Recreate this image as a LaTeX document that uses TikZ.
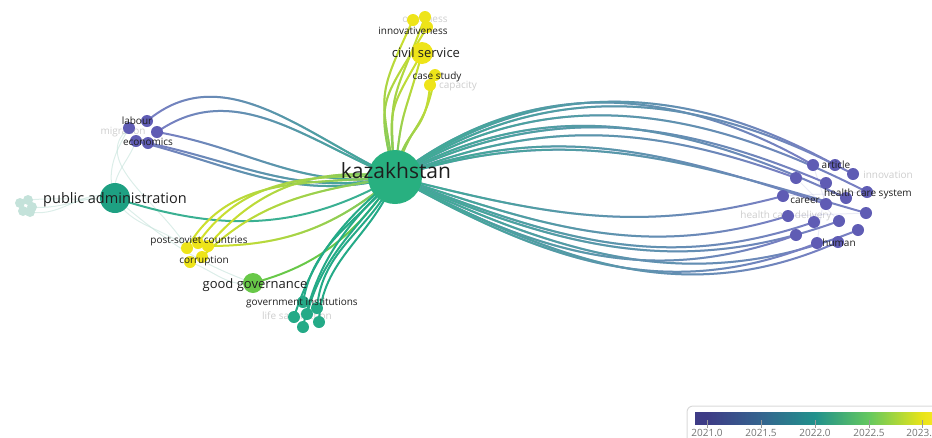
\documentclass[tikz,border=0pt]{standalone}
\usepackage{fontspec}
\setmainfont{Open Sans}
\usetikzlibrary{fadings,backgrounds}

\definecolor{kzgreen}{RGB}{40,176,128}
\definecolor{pateal}{RGB}{30,160,130}
\definecolor{gigreen}{RGB}{36,170,135}
\definecolor{gggreen}{RGB}{104,200,72}
\definecolor{kwyellow}{RGB}{238,228,25}
\definecolor{kwpurple}{RGB}{95,92,180}
\definecolor{kwfaint}{RGB}{196,226,218}
\definecolor{edgepurple}{RGB}{122,126,196}
\definecolor{edgeteal}{RGB}{58,176,146}
\definecolor{edgeyellow}{RGB}{214,226,40}
\definecolor{edgegreen}{RGB}{110,196,108}
\definecolor{lbltext}{RGB}{30,30,30}
\definecolor{lblfaint}{RGB}{205,205,205}
\definecolor{vA}{RGB}{62,60,134}
\definecolor{vB}{RGB}{52,100,142}
\definecolor{vC}{RGB}{33,145,140}
\definecolor{vD}{RGB}{100,200,95}
\definecolor{vE}{RGB}{232,228,25}
\definecolor{vF}{RGB}{253,231,37}
\pgfdeclarehorizontalshading{viridisbar}{100bp}{color(0bp)=(vA); color(27.4bp)=(vA); color(38.5bp)=(vB); color(49.5bp)=(vC); color(60.5bp)=(vD); color(71.3bp)=(vE); color(75bp)=(vF); color(100bp)=(vF)}

\begin{document}
\begin{tikzpicture}
        [x=1pt,y=-1pt,
         kw/.style={circle,inner sep=0,minimum size=12pt,fill=kwpurple},
         lbl/.style={inner sep=0,anchor=base,text=lbltext,font=\fontsize{10}{10}\selectfont},
         lblfade/.style={lbl,text=lblfaint},
         toright/.style={line width=2pt,draw=edgepurple,postaction={draw=edgeteal,path fading=east}},
         toleft/.style={line width=2pt,draw=edgepurple,postaction={draw=edgeteal,path fading=west}},
         yellowedge/.style={line width=2pt,draw=edgeyellow,postaction={draw=edgegreen,path fading=west}},
         civiledge/.style={line width=2pt,draw=edgeyellow,looseness=1.4,postaction={draw=edgegreen,path fading=north}},
         faintedge/.style={line width=1pt,draw=kwfaint,opacity=0.6}]

        \useasboundingbox (0,0) rectangle (932,437);

        \node[kw,fill=kzgreen,minimum size=54pt] (kz) at (395,177) {};
        \node[kw,fill=pateal,minimum size=30pt] (pa) at (115,198) {};
        \node[kw,fill=gggreen,minimum size=20pt] (gg) at (253,283) {};
        \node[kw,fill=kwyellow,minimum size=22pt] (cs) at (422,53) {};

        \node[kw,fill=kwyellow] (cv1) at (413,20) {};
        \node[kw,fill=kwyellow] (cv2) at (425,17) {};
        \node[kw,fill=kwyellow] (cv3) at (427,27) {};
        \node[kw,fill=kwyellow] (ca1) at (435,75) {};
        \node[kw,fill=kwyellow] (ca2) at (430,85) {};

        \node[kw] (lb1) at (129,128) {};
        \node[kw] (lb2) at (147,121) {};
        \node[kw] (lb3) at (157,132) {};
        \node[kw] (lb4) at (136,141) {};
        \node[kw] (lb5) at (148,143) {};

        \node[kw,fill=kwfaint,minimum size=10pt] (f1) at (20,203) {};
        \node[kw,fill=kwfaint,minimum size=10pt] (f2) at (28,200) {};
        \node[kw,fill=kwfaint,minimum size=10pt] (f3) at (32,207) {};
        \node[kw,fill=kwfaint,minimum size=10pt] (f4) at (23,211) {};
        \node[kw,fill=kwfaint,minimum size=10pt] (f5) at (30,212) {};

        \node[kw,fill=kwyellow] (ps1) at (187,248) {};
        \node[kw,fill=kwyellow] (ps2) at (198,243) {};
        \node[kw,fill=kwyellow] (ps3) at (208,246) {};
        \node[kw,fill=kwyellow] (ps4) at (190,262) {};
        \node[kw,fill=kwyellow] (ps5) at (202,257) {};

        \node[kw,fill=gigreen] (gi1) at (303,302) {};
        \node[kw,fill=gigreen] (gi2) at (317,308) {};
        \node[kw,fill=gigreen] (gi3) at (307,314) {};
        \node[kw,fill=gigreen] (gi4) at (319,322) {};
        \node[kw,fill=gigreen] (gi5) at (303,327) {};
        \node[kw,fill=gigreen] (gi6) at (294,317) {};

        \node[kw] (r1) at (813,165) {};
        \node[kw] (r2) at (835,165) {};
        \node[kw] (r3) at (853,174) {};
        \node[kw] (r4) at (796,178) {};
        \node[kw] (r5) at (826,183) {};
        \node[kw] (r6) at (846,198) {};
        \node[kw] (r7) at (867,192) {};
        \node[kw] (r8) at (783,196) {};
        \node[kw] (r9) at (826,204) {};
        \node[kw] (r10) at (866,213) {};
        \node[kw] (r11) at (788,216) {};
        \node[kw] (r12) at (814,222) {};
        \node[kw] (r13) at (839,221) {};
        \node[kw] (r14) at (858,230) {};
        \node[kw] (r15) at (796,235) {};
        \node[kw] (r16) at (817,243) {};
        \node[kw] (r17) at (838,242) {};

        \node[lbl,font=\fontsize{21}{21}\selectfont] (kzl) at (396,178) {kazakhstan};
        \node[lbl,font=\fontsize{14.5}{14.5}\selectfont] (pal) at (115,203) {public administration};
        \node[lbl,font=\fontsize{13}{13}\selectfont] (ggl) at (255,288) {good governance};
        \node[lbl,font=\fontsize{13}{13}\selectfont] (csl) at (426,57) {civil service};
        \node[lbl] (cvl) at (413,34) {innovativeness};
        \node[lbl] (cal) at (437,79) {case study};
        \node[lbl] (lbl1) at (137,124) {labour};
        \node[lbl] (lbl5) at (148,145) {economics};
        \node[lbl] (psl) at (199,243) {post-soviet countries};
        \node[lbl] (ps4l) at (204,263) {corruption};
        \node[lbl] (gil) at (302,305) {government institutions};
        \node[lbl] (r2l) at (836,168) {article};
        \node[lbl] (r6l) at (868,196) {health care system};
        \node[lbl] (r8l) at (805,203) {career};
        \node[lbl] (r17l) at (839,246) {human};

        \draw[gray!30,line width=1pt,rounded corners=6pt] (687,406) rectangle (960,470);
        \shade[shading=viridisbar] (695,412) rectangle (940,424);
        \foreach \tx/\tv in {707/2021.0,761/2021.5,815/2022.0,869/2022.5,922/2023.0}
          {\draw[gray!80,line width=0.8pt] (\tx,420) -- (\tx,428);
           \node[lbl,anchor=north,text=gray!90!black] (t\tx) at (\tx,429) {\tv};}

        \begin{scope}[on background layer]
        \node[lblfade] (cv2l) at (425,22) {openness};
        \node[lblfade] (ca2l) at (458,88) {capacity};
        \node[lblfade] (lb4l) at (123,134) {migration};
        \node[lblfade] (r3l) at (888,178) {innovation};
        \node[lblfade] (r11l) at (786,218) {health care delivery};
        \node[lblfade] (gi6l) at (297,319) {life satisfaction};

        \draw[faintedge] (f2.center) to[out=5,in=185] (pa.center);
        \draw[faintedge] (f3.center) to[out=-5,in=175] (pa.center);
        \draw[faintedge] (f5.center) to[out=-10,in=160] (pa.center);
        \draw[faintedge] (lb1.center) to[out=240,in=110] (pa.center);
        \draw[faintedge] (lb4.center) to[out=250,in=100] (pa.center);
        \draw[faintedge] (lb1.center) to[out=220,in=120] (ps1.center);
        \draw[faintedge] (pa.center) to[out=-60,in=140] (ps1.center);
        \draw[faintedge] (pa.center) to[out=-40,in=160] (gg.center);
        \draw[faintedge] (ps4.center) to[out=-20,in=190] (gg.center);
        \draw[faintedge,draw=edgepurple,opacity=0.15] (r1) -- (r9);
        \draw[faintedge,draw=edgepurple,opacity=0.15] (r4) -- (r13);
        \draw[faintedge,draw=edgepurple,opacity=0.15] (r8) -- (r7);
        \draw[faintedge,draw=edgepurple,opacity=0.15] (r5) -- (r16);
        \draw[faintedge,draw=edgepurple,opacity=0.15] (r11) -- (r10);

        \draw[toright] (kz.center) to[out=38,in=150] (r1.center);
        \draw[toright] (kz.center) to[out=36,in=151] (r2.center);
        \draw[toright] (kz.center) to[out=34,in=152] (r3.center);
        \draw[toright] (kz.center) to[out=22,in=160] (r4.center);
        \draw[toright] (kz.center) to[out=26,in=157] (r5.center);
        \draw[toright] (kz.center) to[out=29,in=155] (r6.center);
        \draw[toright] (kz.center) to[out=32,in=153] (r7.center);
        \draw[toright] (kz.center) to[out=20,in=162] (r9.center);
        \draw[toright] (kz.center) to[out=18,in=164] (r10.center);
        \draw[toright] (kz.center) to[out=-14,in=-165] (r8.center);
        \draw[toright] (kz.center) to[out=-18,in=-163] (r11.center);
        \draw[toright] (kz.center) to[out=-21,in=-161] (r12.center);
        \draw[toright] (kz.center) to[out=-23,in=-160] (r13.center);
        \draw[toright] (kz.center) to[out=-25,in=-158] (r14.center);
        \draw[toright] (kz.center) to[out=-28,in=-160] (r15.center);
        \draw[toright] (kz.center) to[out=-29,in=-158] (r16.center);
        \draw[toright] (kz.center) to[out=-27,in=-156] (r17.center);

        \draw[toleft] (lb2.center) to[out=40,in=155] (kz.center);
        \draw[toleft] (lb3.center) to[out=35,in=158] (kz.center);
        \draw[toleft] (lb5.center) to[out=-12,in=-168] (kz.center);
        \draw[toleft] (lb3.center) to[out=-10,in=-172] (kz.center);
        \draw[toleft] (lb4.center) to[out=-14,in=-165] (kz.center);

        \draw[line width=2pt,draw=edgeteal] (pa.center) to[out=-18,in=-150] (kz.center);
        \draw[line width=2pt,draw=gggreen] (gg.center) to[out=15,in=-125] (kz.center);

        \draw[yellowedge] (ps2.center) to[out=55,in=178] (kz.center);
        \draw[yellowedge] (ps3.center) to[out=50,in=172] (kz.center);
        \draw[yellowedge] (ps1.center) to[out=60,in=185] (kz.center);
        \draw[yellowedge] (ps5.center) to[out=45,in=190] (kz.center);
        \draw[yellowedge] (ps3.center) to[out=0,in=-140] (kz.center);

        \draw[line width=2pt,draw=gigreen] (gi1.center) to[out=80,in=-130] (kz.center);
        \draw[line width=2pt,draw=gigreen] (gi2.center) to[out=85,in=-115] (kz.center);
        \draw[line width=2pt,draw=gigreen] (gi3.center) to[out=75,in=-125] (kz.center);
        \draw[line width=2pt,draw=gigreen] (gi4.center) to[out=88,in=-110] (kz.center);
        \draw[line width=2pt,draw=gigreen] (gi5.center) to[out=78,in=-135] (kz.center);
        \draw[line width=2pt,draw=gigreen] (gi6.center) to[out=72,in=-140] (kz.center);

        \draw[civiledge] (cv1.center) to[out=-115,in=100] (kz.center);
        \draw[civiledge] (cv2.center) to[out=-110,in=95] (kz.center);
        \draw[civiledge] (cv3.center) to[out=-120,in=105] (kz.center);
        \draw[civiledge] (cs.center) to[out=-120,in=95] (kz.center);
        \draw[civiledge] (cs.center) to[out=-105,in=85] (kz.center);
        \draw[civiledge] (ca1.center) to[out=-100,in=75] (kz.center);
        \draw[civiledge] (ca2.center) to[out=-95,in=80] (kz.center);
        \end{scope}
      \end{tikzpicture}
\end{document}
